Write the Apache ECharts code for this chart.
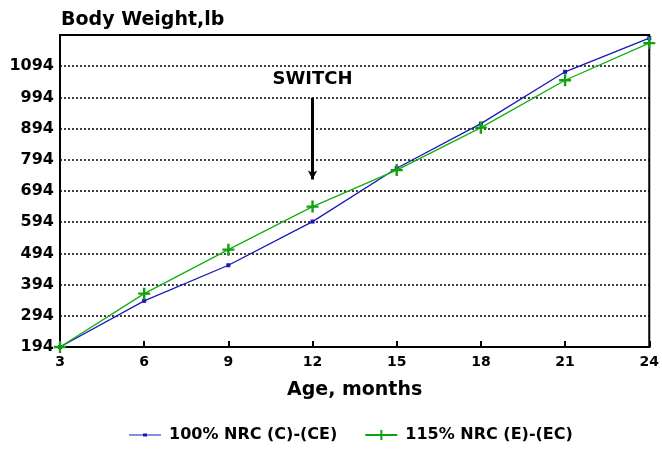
<!DOCTYPE html>
<html><head><meta charset="utf-8">
<script src="https://cdn.jsdelivr.net/npm/echarts@6/dist/echarts.min.js"></script>
<style>html,body{margin:0;padding:0;background:#fff}#c{width:662px;height:453px}</style>
</head><body><div id="c"></div>
<script>
const ages = [3, 6, 9, 12, 15, 18, 21, 24];
const nrc100 = [194, 342, 456, 596, 767, 910, 1076, 1184];
const nrc115 = [194, 365, 506, 644, 761, 897, 1049, 1168];
const seriesNames = ['100% NRC (C)-(CE)', '115% NRC (E)-(EC)'];
const switchAge = 12;
const switchArrow = [993, 731];
const switchLabelY = 1052;

const F = '"DejaVu Sans", "Liberation Sans", Arial, sans-serif';
const plus = 'path://M4,0H6V10H4Z M0,4H10V6H0Z';
const chart = echarts.init(document.getElementById('c'), null, {renderer: 'canvas'});
chart.setOption({
  animation: false,
  backgroundColor: '#fff',
  title: {text: 'Body Weight,lb', left: 56, top: 6,
    textStyle: {fontFamily: F, fontWeight: 'bold', fontSize: 19, color: '#000'}},
  grid: {left: 60, right: 10, top: 35, bottom: 106, show: true, borderColor: '#000', borderWidth: 2},
  legend: {bottom: 5, left: 124, itemWidth: 32, itemHeight: 10, itemGap: 28,
    textStyle: {fontFamily: F, fontWeight: 'bold', fontSize: 16, color: '#000', padding: [0, 0, 0, 3]},
    data: [
      {name: seriesNames[0], icon: 'path://M0,4.5H32V5.5H0Z M14,3.5H18V6.5H14Z'},
      {name: seriesNames[1], icon: 'path://M0,4H32V6H0Z M15,0H17V10H15Z'}
    ]},
  xAxis: {type: 'value', min: 3, max: 24, interval: 3,
    name: 'Age, months', nameLocation: 'middle', nameGap: 34,
    nameTextStyle: {fontFamily: F, fontWeight: 'bold', fontSize: 19, color: '#000'},
    axisLine: {lineStyle: {color: '#000', width: 2}},
    axisTick: {inside: true, length: 6, lineStyle: {color: '#000', width: 2}},
    axisLabel: {fontFamily: F, fontWeight: 'bold', fontSize: 14, color: '#000', margin: 8},
    splitLine: {show: false}},
  yAxis: {type: 'value', min: 194, max: 1194, interval: 100,
    axisLine: {show: true, lineStyle: {color: '#000', width: 2}},
    axisTick: {show: false},
    axisLabel: {fontFamily: F, fontWeight: 'bold', fontSize: 16, color: '#000', margin: 6,
      showMaxLabel: false, formatter: v => String(v)},
    splitLine: {show: true, lineStyle: {color: '#000', type: [2, 2], width: 1.5}}},
  series: [
    {name: seriesNames[0], type: 'line', data: ages.map((a, i) => [a, nrc100[i]]),
      color: '#1818b8', lineStyle: {width: 1.3, color: '#1818b8'},
      symbol: 'rect', symbolSize: 4, showSymbol: true, itemStyle: {color: '#1818b8'}, z: 3,
      markLine: {silent: true, symbol: ['none', 'arrow'], symbolSize: [7, 9],
        lineStyle: {color: '#000', width: 3, type: 'solid'}, label: {show: false},
        data: [[{coord: [switchAge, switchArrow[0]]}, {coord: [switchAge, switchArrow[1]]}]]},
      markPoint: {silent: true, symbol: 'circle', symbolSize: 0,
        label: {show: true, formatter: 'SWITCH', fontFamily: F, fontWeight: 'bold', fontSize: 18, color: '#000', position: 'inside'},
        data: [{coord: [switchAge, switchLabelY]}]}},
    {name: seriesNames[1], type: 'line', data: ages.map((a, i) => [a, nrc115[i]]),
      color: '#10b010', lineStyle: {width: 1.3, color: '#10b010'},
      symbol: plus, symbolSize: 12, showSymbol: true, itemStyle: {color: '#10a010'}, z: 4}
  ]
});
</script></body></html>
